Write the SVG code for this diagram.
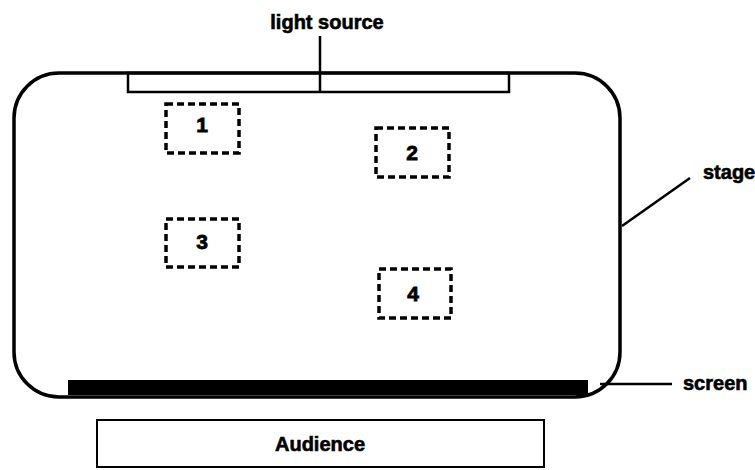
<svg xmlns="http://www.w3.org/2000/svg" width="755" height="470" viewBox="0 0 755 470">
<style>
.lbl{font-family:"Liberation Sans",Arial,sans-serif;font-weight:bold;font-size:20px;fill:#000;stroke:#000;stroke-width:0.6}
.num{font-family:"Liberation Sans",Arial,sans-serif;font-weight:bold;font-size:21px;fill:#000;stroke:#000;stroke-width:0.8;text-anchor:middle;dominant-baseline:central}
.box{fill:none;stroke:#000;stroke-width:3.5;stroke-dasharray:7,4}
.ln{stroke:#000;stroke-width:2.5;fill:none}
</style>
<rect width="755" height="470" fill="#fff"/>
<g id="stage">
<rect x="14" y="73" width="606" height="324" rx="45" ry="45" fill="none" stroke="#000" stroke-width="3.5"/>
</g>
<g id="light-source">
<rect x="128" y="73" width="381" height="19" fill="none" stroke="#000" stroke-width="2.5"/>
</g>
<g id="screen">
<rect x="68" y="380" width="520" height="15" fill="#000"/>
</g>
<g id="box1"><rect class="box" x="166" y="104" width="73" height="49"/><text class="num" x="202" y="124">1</text></g>
<g id="box2"><rect class="box" x="376" y="128" width="73" height="49"/><text class="num" x="412" y="152">2</text></g>
<g id="box3"><rect class="box" x="166" y="219" width="73" height="48"/><text class="num" x="202" y="241">3</text></g>
<g id="box4"><rect class="box" x="379" y="269" width="72" height="49"/><text class="num" x="413" y="293">4</text></g>
<g id="audience">
<rect x="97" y="420" width="447" height="47" fill="none" stroke="#000" stroke-width="2"/>
<text class="lbl" x="320" y="444" text-anchor="middle" dominant-baseline="central" font-size="21">Audience</text>
</g>
<g id="connectors">
<line class="ln" x1="320" y1="36" x2="320" y2="91"/>
<line class="ln" x1="622" y1="226" x2="690" y2="178"/>
<line class="ln" x1="600" y1="384" x2="672" y2="384"/>
</g>
<g id="labels">
<text class="lbl" x="327" y="22" text-anchor="middle" dominant-baseline="central">light source</text>
<text class="lbl" x="703" y="172" dominant-baseline="central">stage</text>
<text class="lbl" x="683" y="383" dominant-baseline="central">screen</text>
</g>
</svg>
